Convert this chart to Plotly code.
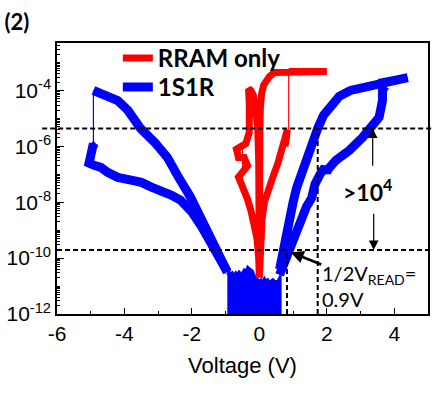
import plotly.graph_objects as go

# ---------------- data (voltage in V, current as log10(I / A)) ----------------
# 1S1R, negative side, upper branch (from near 0 V outwards)
blue_neg_up_v = [-0.95, -1.1, -1.3, -1.5, -1.75, -2.04, -2.4, -2.73, -3.1, -3.52, -3.9, -4.2, -4.5, -4.7, -4.92]
blue_neg_up_logi = [-10.5, -10.14, -9.64, -9.07, -8.46, -7.82, -7.1, -6.39, -5.86, -5.36, -4.71, -4.36, -4.21, -4.11, -4.0]
# 1S1R, negative side, lower branch (from -5 V back to near 0 V)
blue_neg_lo_v = [-4.92, -4.97, -5.05, -4.9, -4.7, -4.5, -4.2, -3.8, -3.5, -3.2, -2.92, -2.6, -2.33, -2.0, -1.7, -1.45, -1.2, -0.95]
blue_neg_lo_logi = [-5.9, -6.35, -6.6, -6.68, -6.75, -6.93, -7.11, -7.21, -7.29, -7.46, -7.57, -7.75, -7.93, -8.35, -8.9, -9.4, -9.95, -10.5]
# 1S1R, noise floor around 0 V (top edge, then bottom edge back)
blue_floor_top_v = [-0.95, -0.9, -0.85, -0.8, -0.75, -0.7, -0.65, -0.6, -0.55, -0.5, -0.45, -0.4, -0.35, -0.3, -0.25, -0.2,
                    -0.15, -0.1, -0.05, 0.0, 0.05, 0.1, 0.15, 0.2, 0.25, 0.3, 0.35, 0.4, 0.45, 0.5, 0.55, 0.6, 0.63]
blue_floor_top_logi = [-10.6, -10.45, -10.55, -10.5, -10.6, -10.5, -10.55, -10.45, -10.6, -10.5, -10.4, -10.45, -10.3, -10.35, -10.4, -10.45,
                       -10.6, -10.7, -10.75, -10.8, -10.75, -10.8, -10.7, -10.8, -10.75, -10.85, -10.8, -10.75, -10.8, -10.85, -10.8, -10.7, -10.6]
blue_floor_bot_v = [0.63, 0.55, 0.5, 0.45, 0.4, 0.3, 0.2, 0.1, 0.0, -0.1, -0.2, -0.3, -0.38, -0.42, -0.46, -0.5, -0.55, -0.6,
                    -0.68, -0.72, -0.76, -0.8, -0.9, -0.95]
blue_floor_bot_logi = [-12.3, -12.3, -11.7, -12.3, -12.3, -12.3, -12.3, -12.3, -12.3, -12.3, -12.3, -12.3, -12.3, -11.6, -12.3, -12.3, -11.7, -12.3,
                       -12.3, -11.6, -12.3, -12.3, -12.3, -12.3]
# 1S1R, positive side: HRS sweep up, SET, LRS sweep back
blue_pos_v = [0.6, 0.75, 0.9, 1.05, 1.2, 1.4, 1.55, 1.65, 1.8, 1.94, 2.0, 2.05, 2.27, 2.67, 3.06, 3.3, 3.55, 3.65, 3.65,
              4.0, 4.4, 4.0, 3.65, 3.06, 2.7, 2.37, 2.1, 1.9, 1.73, 1.55, 1.4, 1.25, 1.1, 1.0, 0.9, 0.8, 0.7, 0.6]
blue_pos_logi = [-10.6, -10.1, -9.6, -9.1, -8.65, -8.15, -7.85, -7.35, -7.0, -6.75, -6.93, -6.8, -6.5, -6.14, -5.68, -5.36, -4.96, -4.36, -3.72,
                 -3.64, -3.54, -3.62, -3.71, -3.86, -4.0, -4.21, -4.54, -4.89, -5.36, -5.95, -6.45, -6.95, -7.5, -8.0, -8.6, -9.2, -9.8, -10.4]
# 1S1R thin jump at -5 V and marked points
blue_jump_v = [-4.92, -4.92]
blue_jump_logi = [-5.9, -4.0]
blue_mark_v = [-4.92, 3.7]
blue_mark_logi = [-5.95, -4.0]
blue_mark_sym = ["triangle-up", "triangle-down"]

# RRAM only: SET sweep (HRS), compliance + LRS return, negative RESET loop
red_set_v = [0.0, 0.03, 0.08, 0.15, 0.25, 0.4, 0.55, 0.65, 0.75, 0.8, 0.83, 0.8, 0.76]
red_set_logi = [-10.7, -9.5, -8.6, -8.0, -7.55, -7.1, -6.6, -6.2, -5.8, -5.6, -5.4, -5.7, -6.0]
red_on_v = [0.87, 2.0, 0.6, 0.45, 0.3, 0.2, 0.13, 0.07, 0.03, 0.015, 0.01, 0.005, 0.0]
red_on_logi = [-3.32, -3.32, -3.32, -3.36, -3.5, -3.65, -3.8, -4.1, -4.6, -5.5, -7.0, -8.5, -10.5]
red_neg_v = [0.0, -0.01, -0.02, -0.05, -0.1, -0.17, -0.25, -0.32, -0.3, -0.28, -0.3, -0.4, -0.55, -0.68, -0.62,
             -0.45, -0.35, -0.5, -0.62, -0.55, -0.45, -0.35, -0.25, -0.15, -0.07, -0.02, 0.0]
red_neg_logi = [-10.5, -8.0, -6.5, -5.3, -4.6, -4.2, -4.0, -3.95, -4.5, -5.0, -5.5, -5.9, -6.0, -6.1, -6.4,
                -6.4, -6.7, -6.95, -7.1, -7.3, -7.55, -7.9, -8.3, -8.8, -9.3, -10.0, -10.7]
red_jump1_v = [0.87, 0.87]
red_jump1_logi = [-5.4, -3.32]
red_jump2_v = [-0.5, -0.5]
red_jump2_logi = [-6.1, -7.6]

# reference levels / annotations (log10 current, voltage)
ion_level = -5.36
ioff_level = -9.71
v_half_read = 0.82
v_read_mark = 1.73

x_tickvals = [-6, -4, -2, 0, 2, 4]
x_ticktext = ["-6", "-4", "-2", "0", "2", "4"]
y_tick_exp = [-12, -10, -8, -6, -4]
y_minor_exp = list(range(-12, -2))

RED = "#ff0000"
BLUE = "#0000ff"


def amps(logs):
    return [None if v is None else 10 ** v for v in logs]


fig = go.Figure()

# 1S1R noise floor (filled) and thick curve
fig.add_trace(go.Scatter(x=blue_floor_top_v + blue_floor_bot_v,
                         y=amps(blue_floor_top_logi + blue_floor_bot_logi),
                         mode="lines", fill="toself", fillcolor=BLUE,
                         line=dict(color=BLUE, width=2), showlegend=False))
bx = blue_neg_up_v + [None] + blue_neg_lo_v + [None] + blue_pos_v
by = blue_neg_up_logi + [None] + blue_neg_lo_logi + [None] + blue_pos_logi
fig.add_trace(go.Scatter(x=bx, y=amps(by), mode="lines", connectgaps=False,
                         line=dict(color=BLUE, width=9), name="<b>1S1R</b>",
                         legend="legend2"))
fig.add_trace(go.Scatter(x=blue_jump_v, y=amps(blue_jump_logi), mode="lines",
                         line=dict(color=BLUE, width=1.2), showlegend=False))
fig.add_trace(go.Scatter(x=blue_mark_v, y=amps(blue_mark_logi), mode="markers",
                         marker=dict(color=BLUE, size=9, symbol=blue_mark_sym), showlegend=False))

# RRAM only
rx = red_set_v + [None] + red_on_v + red_neg_v
ry = red_set_logi + [None] + red_on_logi + red_neg_logi
fig.add_trace(go.Scatter(x=rx, y=amps(ry), mode="lines", connectgaps=False,
                         line=dict(color=RED, width=7), name="<b>RRAM only</b>",
                         legend="legend"))
fig.add_trace(go.Scatter(x=red_jump1_v, y=amps(red_jump1_logi), mode="lines",
                         line=dict(color=RED, width=1.2), showlegend=False))
fig.add_trace(go.Scatter(x=red_jump2_v, y=amps(red_jump2_logi), mode="lines",
                         line=dict(color=RED, width=1.2), showlegend=False))

# dashed guide lines
dash = dict(color="black", width=2, dash="5px,3px")
fig.add_shape(type="line", xref="paper", yref="y", x0=-0.04, x1=1.012,
              y0=10 ** ion_level, y1=10 ** ion_level, line=dash, layer="above")
fig.add_shape(type="line", xref="paper", yref="y", x0=0.0, x1=1.006,
              y0=10 ** ioff_level, y1=10 ** ioff_level, line=dash, layer="above")
fig.add_shape(type="line", xref="x", yref="y", x0=v_half_read, x1=v_half_read,
              y0=1e-12, y1=10 ** ioff_level, line=dash, layer="above")
fig.add_shape(type="line", xref="x", yref="y", x0=v_read_mark, x1=v_read_mark,
              y0=1e-12, y1=10 ** ion_level, line=dash, layer="above")

# arrows
fig.add_annotation(x=3.36, y=ion_level, ax=3.36, ay=-6.75, xref="x", yref="y", axref="x", ayref="y",
                   text="", showarrow=True, arrowhead=2, arrowsize=1.6, arrowwidth=1.2,
                   arrowcolor="black", standoff=0)
fig.add_annotation(x=3.39, y=ioff_level, ax=3.39, ay=-8.36, xref="x", yref="y", axref="x", ayref="y",
                   text="", showarrow=True, arrowhead=2, arrowsize=1.6, arrowwidth=1.2,
                   arrowcolor="black", standoff=0)
fig.add_annotation(x=0.93, y=-9.79, ax=1.88, ay=-10.25, xref="x", yref="y", axref="x", ayref="y",
                   text="", showarrow=True, arrowhead=2, arrowsize=1, arrowwidth=2.6,
                   arrowcolor="black", standoff=0)

# texts
fig.add_annotation(x=3.22, y=-7.57, xref="x", yref="y", text="<b>&gt;10<sup>4</sup></b>",
                   showarrow=False, font=dict(family="Lato", size=23, color="black"))
fig.add_annotation(x=1.8, y=-11.0, xref="x", yref="y", xanchor="left", yanchor="middle", align="left",
                   text="1/2V<sub>READ</sub>=<br>0.9V", showarrow=False,
                   font=dict(family="Lato", size=20, color="black"))

axis_font = dict(family="Liberation Sans, Arial", size=21, color="black")
legend_style = dict(x=0.164, xanchor="left", yanchor="top", bgcolor="rgba(0,0,0,0)",
                    font=dict(family="Lato", size=24, color="black"), itemwidth=30)

fig.update_layout(
    width=444, height=397,
    margin=dict(l=57, r=16, t=43, b=83, autoexpand=False),
    paper_bgcolor="white", plot_bgcolor="white",
    title=dict(text="<b>(2)</b>", x=0.01, xanchor="left", y=0.945, yanchor="middle",
               font=dict(family="Lato", size=22, color="black")),
    legend=dict(y=1.026, **legend_style),
    legend2=dict(y=0.919, **legend_style),
    xaxis=dict(range=[-6, 5], tickmode="array", tickvals=x_tickvals, ticktext=x_ticktext,
               ticks="inside", ticklen=6, tickwidth=1.3, tickcolor="black", automargin=False,
               minor=dict(ticks="inside", ticklen=3, dtick=1, tickwidth=1.3, tickcolor="black", showgrid=False),
               showline=True, linewidth=1.5, linecolor="black", mirror=True,
               showgrid=False, zeroline=False, tickfont=axis_font,
               title=dict(text="Voltage (V)", font=dict(family="Liberation Sans, Arial", size=22, color="black"),
                          standoff=14)),
    yaxis=dict(type="log", range=[-12, -2.301], tickmode="array",
               tickvals=[10 ** e for e in y_tick_exp],
               ticktext=["10<sup>%d</sup>" % e for e in y_tick_exp],
               ticks="inside", ticklen=7, tickwidth=1.3, tickcolor="black", automargin=False,
               minor=dict(ticks="inside", ticklen=3.5, tickmode="array",
                          tickvals=[k * 10 ** e for e in y_minor_exp for k in range(1, 10)],
                          tickwidth=1, tickcolor="black", showgrid=False),
               showline=True, linewidth=1.5, linecolor="black", mirror=True,
               showgrid=False, zeroline=False, tickfont=axis_font),
)

fig.write_html("out.html", config={"displayModeBar": False},
               post_script="document.body.style.margin='0px';")
